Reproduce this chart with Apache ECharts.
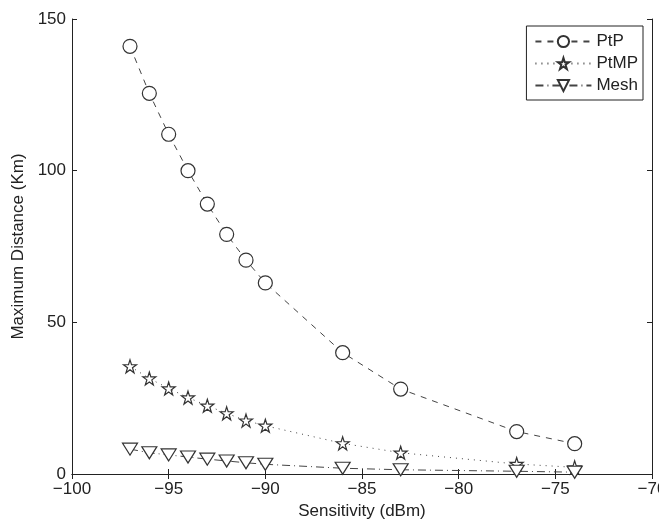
<!DOCTYPE html>
<html><head><meta charset="utf-8">
<script src="https://cdn.jsdelivr.net/npm/echarts@6/dist/echarts.min.js"></script>
<style>html,body{margin:0;padding:0;background:#fff}#c{width:659px;height:522px}</style>
</head><body><div id="c"></div>
<script>
const sensitivity = [-97, -96, -95, -94, -93, -92, -91, -90, -86, -83, -77, -74];
const ptp  = [141, 125.5, 112, 100, 89, 79, 70.5, 63, 40, 28, 14, 10];
const ptmp = [35.5, 31.5, 28.2, 25.2, 22.5, 20, 17.6, 15.9, 10.1, 7, 3.3, 2.2];
const mesh = [8.2, 7.0, 6.3, 5.6, 4.9, 4.3, 3.7, 3.2, 1.9, 1.4, 0.9, 0.6];
const xTicks = [-100, -95, -90, -85, -80, -75, -70];
const yTicks = [0, 50, 100, 150];

const FONT = 'Liberation Sans';
const INK = '#222';
const star = 'path://M50,2 L61,36 L97,36 L68,57 L79,92 L50,71 L21,92 L32,57 L3,36 L39,36 Z';
const pairs = ys => sensitivity.map((x, i) => [x, ys[i]]);
const fmt = v => (v < 0 ? '\u2212' + Math.abs(v) : String(v));

const baseAxis = {
  axisLine: {show: true, lineStyle: {color: INK, width: 1}},
  axisTick: {show: true, inside: true, length: 5, lineStyle: {color: INK}},
  splitLine: {show: false}
};

const chart = echarts.init(document.getElementById('c'), null, {renderer: 'canvas'});
chart.setOption({
  animation: false,
  backgroundColor: '#fff',
  textStyle: {fontFamily: FONT, color: INK},
  grid: {left: 72, right: 7, top: 19, bottom: 48, containLabel: false, outerBoundsMode: 'none'},
  legend: {
    orient: 'vertical', right: 16, top: 26,
    backgroundColor: '#fff', borderColor: INK, borderWidth: 1,
    padding: [7, 5, 6, 8], itemGap: 5, itemWidth: 56, itemHeight: 14,
    textStyle: {fontFamily: FONT, fontSize: 17, color: INK},
    data: ['PtP', 'PtMP', 'Mesh']
  },
  xAxis: [
    Object.assign({}, baseAxis, {
      type: 'value', min: -100, max: -70, interval: 5,
      name: 'Sensitivity (dBm)', nameLocation: 'middle', nameGap: 28,
      nameTextStyle: {fontFamily: FONT, fontSize: 17, color: INK},
      axisLabel: {fontFamily: FONT, fontSize: 17, color: INK, margin: 7,
        formatter: v => xTicks.includes(v) ? fmt(v) : ''}
    }),
    Object.assign({}, baseAxis, {
      type: 'value', min: -100, max: -70, interval: 5, position: 'top',
      axisLabel: {show: false}
    })
  ],
  yAxis: [
    Object.assign({}, baseAxis, {
      type: 'value', min: 0, max: 150, interval: 50,
      name: 'Maximum Distance (Km)', nameLocation: 'middle', nameGap: 43,
      nameTextStyle: {fontFamily: FONT, fontSize: 17, color: INK},
      axisLabel: {fontFamily: FONT, fontSize: 17, color: INK, margin: 6,
        formatter: v => yTicks.includes(v) ? fmt(v) : ''}
    }),
    Object.assign({}, baseAxis, {
      type: 'value', min: 0, max: 150, interval: 50, position: 'right',
      axisLabel: {show: false}
    })
  ],
  series: [
    {
      name: 'PtP', type: 'line', data: pairs(ptp), clip: false,
      symbol: 'circle', symbolSize: 14,
      itemStyle: {color: '#fff', borderColor: '#333', borderWidth: 1.2},
      lineStyle: {color: '#444', width: 1, type: [6, 6]}
    },
    {
      name: 'PtMP', type: 'line', data: pairs(ptmp), clip: false,
      symbol: star, symbolSize: 13,
      itemStyle: {color: '#fff', borderColor: '#333', borderWidth: 1.2},
      lineStyle: {color: '#444', width: 1, type: [1, 5]}
    },
    {
      name: 'Mesh', type: 'line', data: pairs(mesh), clip: false,
      symbol: 'triangle', symbolRotate: 180, symbolSize: [15, 12],
      itemStyle: {color: '#fff', borderColor: '#333', borderWidth: 1.2},
      lineStyle: {color: '#444', width: 1, type: [8, 4, 1, 4]}
    }
  ]
});
</script>
</body></html>
